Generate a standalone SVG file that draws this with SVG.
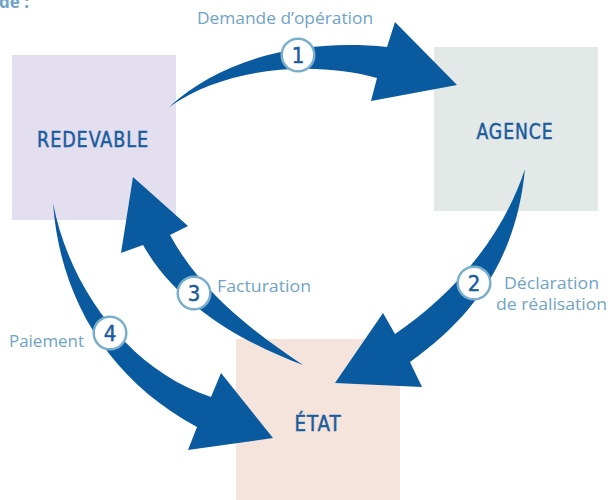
<svg xmlns="http://www.w3.org/2000/svg" width="610" height="500" viewBox="0 0 610 500">
<defs>
<style>
.node-label{font-family:"DejaVu Sans Condensed","DejaVu Sans","Liberation Sans",sans-serif;font-size:21px;fill:#1b5c9e;stroke:#1b5c9e;stroke-width:0.5;text-anchor:middle;letter-spacing:1px}
.edge-label{font-family:"Open Sans","Noto Sans","Liberation Sans",sans-serif;font-size:16px;fill:#6fa4c5}
.arrow{fill:#0a5aa0}
.badge circle{fill:#ffffff;stroke:#7aafcc;stroke-width:2.5}
.badge text{font-family:"DejaVu Sans Condensed","DejaVu Sans","Liberation Sans",sans-serif;font-size:22px;fill:#1b5c9e;stroke:#1b5c9e;stroke-width:0.5;text-anchor:middle}
</style>
</defs>
<rect width="610" height="500" fill="#ffffff"/>
<text x="-1" y="7.5" style="font-family:'Open Sans','Noto Sans','Liberation Sans',sans-serif;font-size:17px;font-weight:bold;fill:#6fa4c5">de :</text>

<g id="node-redevable">
<rect x="12" y="55" width="164" height="165" fill="#e3dfee"/>
<text class="node-label" x="93" y="147" textLength="112" lengthAdjust="spacingAndGlyphs">REDEVABLE</text>
</g>
<g id="node-agence">
<rect x="434" y="47" width="164" height="164" fill="#e3e9e6"/>
<text class="node-label" x="515" y="139" textLength="77" lengthAdjust="spacingAndGlyphs">AGENCE</text>
</g>
<g id="node-etat">
<rect x="236" y="339" width="164" height="161" fill="#f4e4dc"/>
<text class="node-label" x="318" y="431" textLength="47" lengthAdjust="spacingAndGlyphs">ÉTAT</text>
</g>

<g id="connectors">
<path class="arrow" d="M169,107 C220,60 300,38 387,47 L395,22 L457,85 L371,101 L377,78 C320,62 230,64 169,107 Z"/>
<path class="arrow" d="M525,169 C518,240 490,305 410,362 L422,387 L335,383 L383,313 L395,334 C445,300 500,245 525,169 Z"/>
<path class="arrow" d="M303,365 C250,345 180,310 143,245 L121,253 L133,177 L188,226 L170,235 C200,290 250,330 303,365 Z"/>
<path class="arrow" d="M53,203 C60,300 110,380 197,427 L188,450 L273,438 L221,373 L211,397 C130,370 70,290 53,203 Z"/>
</g>

<g id="labels">
<text class="edge-label" x="197" y="24" textLength="176" lengthAdjust="spacingAndGlyphs">Demande d’opération</text>
<text class="edge-label" x="504" y="289" textLength="95" lengthAdjust="spacingAndGlyphs">Déclaration</text>
<text class="edge-label" x="496" y="310" textLength="111" lengthAdjust="spacingAndGlyphs">de réalisation</text>
<text class="edge-label" x="217" y="292" textLength="94" lengthAdjust="spacingAndGlyphs">Facturation</text>
<text class="edge-label" x="9" y="347" textLength="75" lengthAdjust="spacingAndGlyphs">Paiement</text>
</g>

<g id="badge-1" class="badge"><circle cx="298" cy="55" r="16.3"/><text x="298" y="63">1</text></g>
<g id="badge-2" class="badge"><circle cx="474" cy="283" r="16.3"/><text x="474" y="291">2</text></g>
<g id="badge-3" class="badge"><circle cx="194" cy="293" r="16.3"/><text x="194" y="301">3</text></g>
<g id="badge-4" class="badge"><circle cx="110" cy="333" r="16.3"/><text x="110" y="341">4</text></g>
</svg>
